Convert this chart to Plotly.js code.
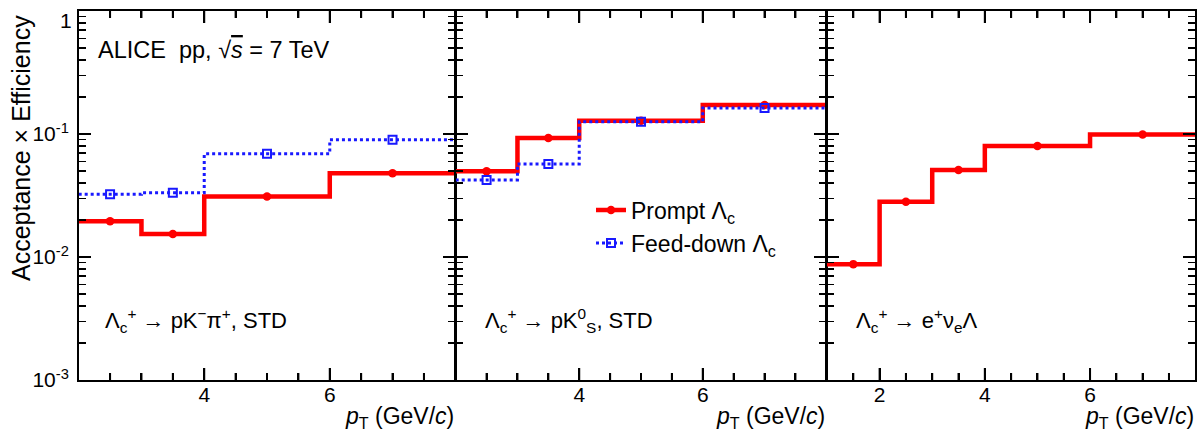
<!DOCTYPE html>
<html>
<head>
<meta charset="utf-8">
<script src="https://cdn.plot.ly/plotly-3.0.1.min.js"></script>
<style>html,body{margin:0;padding:0;background:#fff;}#chart{width:1198px;height:433px;}</style>
</head>
<body>
<div id="chart"></div>
<script>
// ---- data ----
const edgesPKpi = [2, 3, 4, 6, 8];
const promptPKpi = [0.0195, 0.0154, 0.031, 0.048];
const feedPKpi = [0.0323, 0.0333, 0.069, 0.090];

const edgesPK0S = [2, 3, 4, 6, 8];
const promptPK0S = [0.0498, 0.0927, 0.128, 0.172];
const feedPK0S = [0.0422, 0.0571, 0.126, 0.163];

const edgesENuL = [1, 2, 3, 4, 6, 8];
const promptENuL = [0.00875, 0.0281, 0.0509, 0.080, 0.099];

// axis ranges (ends trimmed by a hair so that the edge ticks carry no label)
const xRange12 = [2.005, 7.995];
const xRange3 = [1, 7.995];
const xMajorStep = 2;
const xMinorStep = 0.5;
const yTickVals = [0.001, 0.01, 0.1, 1];
const yTickText = ['10<sup>-3</sup>', '10<sup>-2</sup>', '10<sup>-1</sup>', ''];
const yTopLabel = '1';

// ---- styling ----
const RED = 'rgb(255,0,0)';
const BLUE = 'rgb(25,25,255)';
const FONT = 'Liberation Sans, Arial, Helvetica, sans-serif';

function stepTrace(edges, vals, xa, ya, line) {
  return {
    x: edges.slice(),
    y: vals.concat([vals[vals.length - 1]]),
    xaxis: xa, yaxis: ya, mode: 'lines', type: 'scatter',
    line: Object.assign({shape: 'hv'}, line),
    showlegend: false, hoverinfo: 'skip'
  };
}
function centers(edges) {
  const c = [];
  for (let i = 0; i < edges.length - 1; i++) c.push((edges[i] + edges[i + 1]) / 2);
  return c;
}
function markerTrace(edges, vals, xa, ya, marker) {
  return {
    x: centers(edges), y: vals, xaxis: xa, yaxis: ya, mode: 'markers', type: 'scatter',
    marker: marker, showlegend: false
  };
}

const redLine = {color: RED, width: 4.5};
const blueLine = {color: BLUE, width: 3, dash: 'dot'};
const redMarker = {color: RED, size: 8.5, symbol: 'circle'};
const blueMarker = {color: BLUE, size: 8, symbol: 'square-open', line: {color: BLUE, width: 2}};

const traces = [
  stepTrace(edgesPKpi, promptPKpi, 'x', 'y', redLine),
  markerTrace(edgesPKpi, promptPKpi, 'x', 'y', redMarker),
  stepTrace(edgesPKpi, feedPKpi, 'x', 'y', blueLine),
  markerTrace(edgesPKpi, feedPKpi, 'x', 'y', blueMarker),

  stepTrace(edgesPK0S, promptPK0S, 'x2', 'y2', redLine),
  markerTrace(edgesPK0S, promptPK0S, 'x2', 'y2', redMarker),
  stepTrace(edgesPK0S, feedPK0S, 'x2', 'y2', blueLine),
  markerTrace(edgesPK0S, feedPK0S, 'x2', 'y2', blueMarker),

  stepTrace(edgesENuL, promptENuL, 'x3', 'y3', redLine),
  markerTrace(edgesENuL, promptENuL, 'x3', 'y3', redMarker),

  // legend entries (one legend box each so the row spacing can match)
  {x: [null], y: [null], xaxis: 'x2', yaxis: 'y2', type: 'scatter', mode: 'lines+markers',
   name: 'Prompt Λ<sub>c</sub>', line: {color: RED, width: 4.5}, marker: redMarker,
   showlegend: true, legend: 'legend'},
  {x: [null], y: [null], xaxis: 'x2', yaxis: 'y2', type: 'scatter', mode: 'lines+markers',
   name: 'Feed-down Λ<sub>c</sub>', line: {color: BLUE, width: 3, dash: 'dot'}, marker: blueMarker,
   showlegend: true, legend: 'legend2'}
];

// ---- geometry (pixels -> paper) ----
const L = 79, R = 1195, T = 11, B = 380;
const W = R - L, H = B - T;
const px = v => (v - L) / W;
const py = v => (B - v) / H;

const tickFont = {family: FONT, size: 21, color: '#000'};
function common() {
  return {
    ticks: 'inside', tickwidth: 2, tickcolor: '#000', ticklen: 12,
    showline: true, linecolor: '#000', linewidth: 2, mirror: 'ticks',
    showgrid: false, zeroline: false, tickfont: tickFont, ticklabeloverflow: 'allow'
  };
}
function xAxis(domain, anchor, range) {
  return Object.assign(common(), {
    domain: domain, anchor: anchor, range: range,
    tickmode: 'linear', tick0: 0, dtick: xMajorStep,
    minor: {ticks: 'inside', ticklen: 7, tickwidth: 2, tickcolor: '#000', tickmode: 'linear', tick0: 0, dtick: xMinorStep},
    ticklabelstandoff: -5
  });
}
function yAxis(anchor, labels) {
  return Object.assign(common(), {
    type: 'log', range: [-3, 0], anchor: anchor, domain: [0, 1],
    tickmode: 'array', tickvals: yTickVals, ticktext: yTickText,
    minor: {ticks: 'inside', ticklen: 7, tickwidth: 1.5, tickcolor: '#000', tickmode: 'linear', tick0: 0, dtick: 'D1'},
    showticklabels: labels, ticklabelstandoff: 4
  });
}

// explicit tick marks along the bottom and top frame of each panel (from the axis ranges)
function xTickShapes(xref, yref, range) {
  const out = [];
  const majLen = 12 / H, minLen = 7 / H;
  const first = Math.ceil(range[0] / xMinorStep) * xMinorStep;
  for (let v = first; v < range[1]; v += xMinorStep) {
    const isMajor = Math.abs(v / xMajorStep - Math.round(v / xMajorStep)) < 1e-6;
    const len = isMajor ? majLen : minLen;
    const base = {type: 'line', xref: xref, yref: yref + ' domain', x0: v, x1: v,
                  line: {color: '#000', width: 2}, layer: 'above'};
    out.push(Object.assign({}, base, {y0: 0, y1: len}));
    out.push(Object.assign({}, base, {y0: 1, y1: 1 - len}));
  }
  return out;
}
const shapes = [].concat(
  xTickShapes('x', 'y', xRange12),
  xTickShapes('x2', 'y2', xRange12),
  xTickShapes('x3', 'y3', xRange3)
);

const txt = {family: FONT, size: 22, color: '#000'};
const xtitleFont = {family: FONT, size: 23, color: '#000'};
const xtitle = '<i>p</i><sub>T</sub> (GeV/<i>c</i>)';
const annotations = [
  {text: 'ALICE\u00a0\u00a0pp, √<span style="text-decoration:overline"><i>s</i></span> = 7 TeV',
   x: px(97), y: py(50), xanchor: 'left', yanchor: 'middle', font: {family: FONT, size: 23.5, color: '#000'}},
  {text: 'Λ<sub>c</sub><sup>+</sup> → pK<sup>−</sup>π<sup>+</sup>, STD',
   x: px(104), y: py(320), xanchor: 'left', yanchor: 'middle'},
  {text: 'Λ<sub>c</sub><sup>+</sup> → pK<sup>0</sup><sub>S</sub>, STD',
   x: px(484), y: py(320), xanchor: 'left', yanchor: 'middle'},
  {text: 'Λ<sub>c</sub><sup>+</sup> → e<sup>+</sup>ν<sub>e</sub>Λ',
   x: px(855), y: py(320), xanchor: 'left', yanchor: 'middle'},
  {text: xtitle, x: px(455), y: py(418), xanchor: 'right', yanchor: 'middle', font: xtitleFont},
  {text: xtitle, x: px(826), y: py(418), xanchor: 'right', yanchor: 'middle', font: xtitleFont},
  {text: xtitle, x: px(1195), y: py(418), xanchor: 'right', yanchor: 'middle', font: xtitleFont},
  {text: 'Acceptance × Efficiency', textangle: -90, x: px(21), y: py(14),
   xanchor: 'center', yanchor: 'top', font: {family: FONT, size: 25, color: '#000'}},
  {text: yTopLabel, x: px(73), y: py(20), xanchor: 'right', yanchor: 'middle', font: tickFont}
].map(a => Object.assign({xref: 'paper', yref: 'paper', showarrow: false, font: txt, borderpad: 0}, a));

const legendBase = {xanchor: 'left', yanchor: 'middle', bgcolor: 'rgba(0,0,0,0)', borderwidth: 0,
                    font: {family: FONT, size: 23, color: '#000'}, itemwidth: 30};

const layout = {
  width: 1198, height: 433,
  margin: {l: L, r: 1198 - R, t: T, b: 433 - B, pad: 0},
  paper_bgcolor: '#fff', plot_bgcolor: '#fff',
  font: txt,
  showlegend: true,
  legend: Object.assign({}, legendBase, {x: px(591), y: py(210)}),
  legend2: Object.assign({}, legendBase, {x: px(591), y: py(243)}),
  xaxis: xAxis([0, px(455)], 'y', xRange12),
  xaxis2: xAxis([px(456), px(826)], 'y2', xRange12),
  xaxis3: xAxis([px(827), 1], 'y3', xRange3),
  yaxis: yAxis('x', true),
  yaxis2: yAxis('x2', false),
  yaxis3: yAxis('x3', false),
  shapes: shapes,
  annotations: annotations
};

Plotly.newPlot('chart', traces, layout, {displayModeBar: false, staticPlot: true});
</script>
</body>
</html>
